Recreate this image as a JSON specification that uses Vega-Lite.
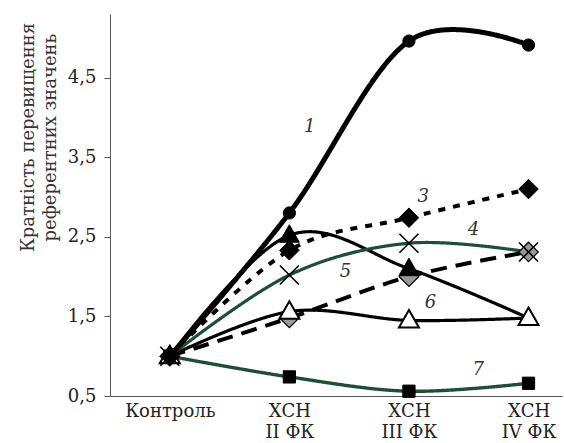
{
  "$schema": "https://vega.github.io/schema/vega-lite/v6.json",
  "width": 452,
  "height": 382,
  "autosize": {"type": "none"},
  "padding": {"left": 110, "top": 14, "right": 2, "bottom": 47},
  "background": "white",
  "config": {
    "view": {"stroke": null},
    "font": "DejaVu Serif",
    "axis": {"grid": false, "labelFont": "DejaVu Serif", "titleFont": "DejaVu Serif", "labelColor": "#222", "titleColor": "#333", "domainColor": "#555", "tickColor": "#555"}
  },
  "datasets": {
    "series": [
      {"s": "5", "x": 0, "y": 1.0}, {"s": "5", "x": 1, "y": 1.48}, {"s": "5", "x": 2, "y": 2.0}, {"s": "5", "x": 3, "y": 2.31},
      {"s": "7", "x": 0, "y": 1.0}, {"s": "7", "x": 1, "y": 0.74}, {"s": "7", "x": 2, "y": 0.56}, {"s": "7", "x": 3, "y": 0.66},
      {"s": "2", "x": 0, "y": 1.0}, {"s": "2", "x": 1, "y": 2.52}, {"s": "2", "x": 2, "y": 2.1}, {"s": "2", "x": 3, "y": 1.48},
      {"s": "6", "x": 0, "y": 1.0}, {"s": "6", "x": 1, "y": 1.56}, {"s": "6", "x": 2, "y": 1.45}, {"s": "6", "x": 3, "y": 1.48},
      {"s": "3", "x": 0, "y": 1.0}, {"s": "3", "x": 1, "y": 2.33}, {"s": "3", "x": 2, "y": 2.74}, {"s": "3", "x": 3, "y": 3.1},
      {"s": "4", "x": 0, "y": 1.0}, {"s": "4", "x": 1, "y": 2.02}, {"s": "4", "x": 2, "y": 2.42}, {"s": "4", "x": 3, "y": 2.31},
      {"s": "1", "x": 0, "y": 1.0}, {"s": "1", "x": 1, "y": 2.8}, {"s": "1", "x": 2, "y": 4.96}, {"s": "1", "x": 3, "y": 4.91}
    ],
    "labels": [
      {"s": "1", "x": 1.17, "y": 3.88},
      {"s": "3", "x": 2.12, "y": 3.0},
      {"s": "4", "x": 2.54, "y": 2.59},
      {"s": "5", "x": 1.47, "y": 2.06},
      {"s": "6", "x": 2.18, "y": 1.67},
      {"s": "7", "x": 2.58, "y": 0.83}
    ]
  },
  "encoding": {
    "x": {
      "field": "x", "type": "quantitative",
      "scale": {"domain": [-0.5, 3.28], "nice": false, "zero": false},
      "axis": {
        "title": null, "values": [0, 1, 2, 3], "ticks": false, "labelFontSize": 18, "labelPadding": 6, "labelLineHeight": 21,
        "labelExpr": "datum.value == 0 ? 'Контроль' : datum.value == 1 ? ['ХСН', 'II ФК'] : datum.value == 2 ? ['ХСН', 'III ФК'] : ['ХСН', 'IV ФК']",
        "labelFlush": false, "labelOverlap": false
      }
    },
    "y": {
      "field": "y", "type": "quantitative",
      "scale": {"domain": [0.5, 5.3], "nice": false, "zero": false},
      "axis": {
        "values": [0.5, 1.5, 2.5, 3.5, 4.5], "tickSize": 6, "labelFontSize": 18, "labelPadding": 8,
        "labelExpr": "replace(format(datum.value, '.1f'), '.', ',')",
        "title": ["Кратність перевищення", "референтних значень"],
        "titleFontSize": 18, "titleFontWeight": "normal", "titleAngle": -90,
        "titleX": -91, "titleY": 123, "titleAlign": "center", "titleBaseline": "top", "titleLineHeight": 22,
        "labelFlush": false
      }
    }
  },
  "layer": [
    {
      "data": {"name": "series"},
      "mark": {"type": "line", "interpolate": "cardinal", "strokeCap": "butt"},
      "encoding": {
        "color": {"field": "s", "type": "nominal", "legend": null,
          "scale": {"domain": ["1", "2", "3", "4", "5", "6", "7"], "range": ["#000000", "#000000", "#000000", "#1d4f38", "#000000", "#000000", "#1d4f38"]}},
        "strokeWidth": {"field": "s", "type": "nominal", "legend": null,
          "scale": {"type": "ordinal", "domain": ["1", "2", "3", "4", "5", "6", "7"], "range": [5, 3.2, 4, 3.2, 4, 3.2, 3.4]}},
        "strokeDash": {"field": "s", "type": "nominal", "legend": null,
          "scale": {"domain": ["1", "2", "3", "4", "5", "6", "7"], "range": [[1, 0], [1, 0], [7, 8], [1, 0], [16, 9], [1, 0], [1, 0]]}}
      }
    },
    {
      "data": {"name": "series"},
      "mark": {"type": "point", "opacity": 1},
      "encoding": {
        "shape": {"field": "s", "type": "nominal", "legend": null,
          "scale": {"domain": ["1", "2", "3", "4", "5", "6", "7"], "range": ["circle", "M0,-1.05L1,0.7L-1,0.7Z", "M0,-1L1,0L0,1L-1,0Z", "M-1,-1L1,1M-1,1L1,-1", "M0,-1L1,0L0,1L-1,0Z", "M0,-1.05L1,0.7L-1,0.7Z", "square"]}},
        "size": {"field": "s", "type": "nominal", "legend": null,
          "scale": {"type": "ordinal", "domain": ["1", "2", "3", "4", "5", "6", "7"], "range": [150, 400, 380, 361, 380, 400, 150]}},
        "fill": {"field": "s", "type": "nominal", "legend": null,
          "scale": {"domain": ["1", "2", "3", "4", "5", "6", "7"], "range": ["#000000", "#000000", "#000000", "transparent", "#999999", "#ffffff", "#000000"]}},
        "stroke": {"field": "s", "type": "nominal", "legend": null,
          "scale": {"domain": ["1", "2", "3", "4", "5", "6", "7"], "range": ["#000000", "#000000", "#000000", "#000000", "#000000", "#000000", "#000000"]}},
        "strokeWidth": {"field": "s", "type": "nominal", "legend": null,
          "scale": {"type": "ordinal", "domain": ["1", "2", "3", "4", "5", "6", "7"], "range": [1, 1, 1, 1.6, 1.2, 2, 1]}}
      }
    },
    {
      "data": {"name": "labels"},
      "mark": {"type": "text", "font": "DejaVu Serif", "fontStyle": "italic", "fontSize": 18, "color": "#333333"},
      "encoding": {"text": {"field": "s", "type": "nominal"}}
    }
  ],
  "resolve": {"scale": {"strokeWidth": "independent", "color": "independent"}}
}
